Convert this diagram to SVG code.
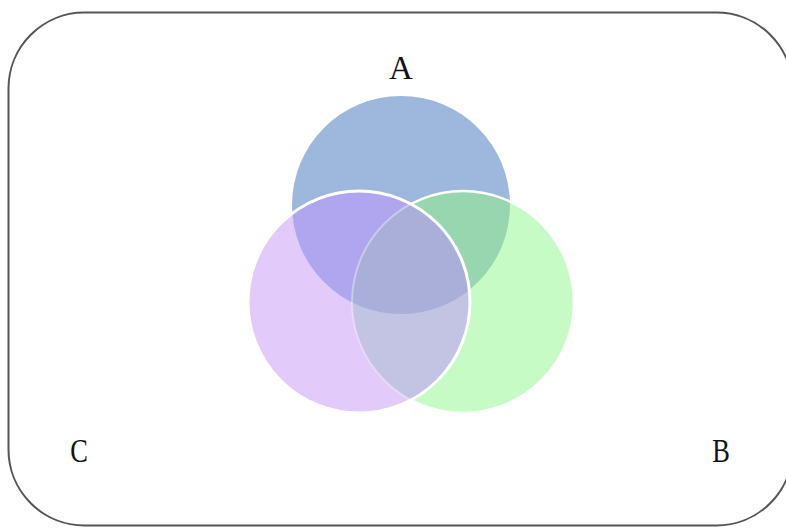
<svg xmlns="http://www.w3.org/2000/svg" width="786" height="529" viewBox="0 0 786 529">
<style>
.lbl{font-family:"Liberation Serif","DejaVu Serif",serif;font-size:33px;fill:#111;text-anchor:middle}
.edge{fill:none;stroke:#fff}
</style>
<defs>
<clipPath id="clipA"><circle cx="401" cy="205" r="109"/></clipPath>
<clipPath id="clipB"><circle cx="463" cy="302" r="111"/></clipPath>
<clipPath id="clipC"><circle cx="359" cy="302" r="111"/></clipPath>
<mask id="outC"><rect width="786" height="529" fill="#fff"/><circle cx="359" cy="302" r="111" fill="#000"/></mask>
</defs>
<rect x="0" y="0" width="786" height="529" fill="#fff"/>
<rect id="frame" x="8.5" y="12.5" width="784" height="513" rx="76" ry="76" fill="none" stroke="#555" stroke-width="2"/>
<g id="nodeA">
<circle cx="401" cy="205" r="109" fill="#9db8dc"/>
</g>
<g id="nodeB">
<circle cx="463" cy="302" r="111" fill="#c6fbc6"/>
<circle cx="463" cy="302" r="111" fill="#97d6ae" clip-path="url(#clipA)"/>
</g>
<g id="nodeC">
<circle cx="359" cy="302" r="111" fill="#e2cbfb"/>
<circle cx="359" cy="302" r="111" fill="#afa6ef" clip-path="url(#clipA)"/>
<g clip-path="url(#clipB)">
<circle cx="359" cy="302" r="111" fill="#c3c3e4"/>
<circle cx="401" cy="205" r="109" fill="#a9afd8" clip-path="url(#clipC)"/>
</g>
</g>
<g id="connectors">
<circle class="edge" cx="463" cy="302" r="111" stroke-width="2.5" mask="url(#outC)"/>
<circle class="edge" cx="463" cy="302" r="111" stroke-width="2" stroke-opacity="0.35" clip-path="url(#clipC)"/>
<circle class="edge" cx="359" cy="302" r="111" stroke-width="3"/>
</g>
<text class="lbl" x="401" y="79">A</text>
<text class="lbl" transform="translate(79,462) scale(0.8,1)">C</text>
<text class="lbl" transform="translate(721,462) scale(0.8,1)">B</text>
</svg>
